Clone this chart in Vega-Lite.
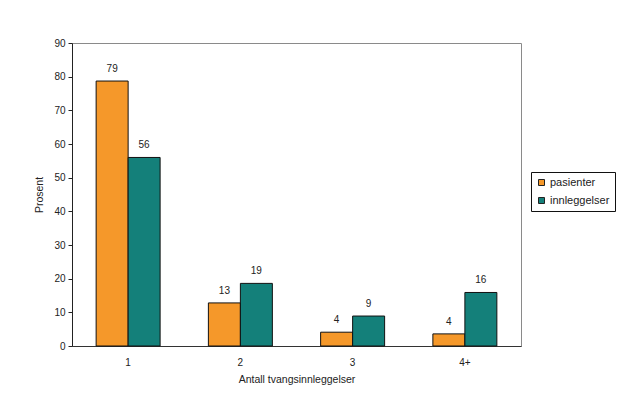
{
  "$schema": "https://vega.github.io/schema/vega-lite/v6.json",
  "autosize": {"type": "none"},
  "width": 449,
  "height": 303,
  "padding": {"left": 72, "top": 43, "right": 106, "bottom": 64},
  "background": "white",
  "config": {
    "font": "Liberation Sans",
    "view": {"stroke": "#8a8a8a", "strokeWidth": 1},
    "axis": {"labelFont": "Liberation Sans", "titleFont": "Liberation Sans", "labelColor": "#222", "titleColor": "#222"}
  },
  "data": {
    "values": [
      {"kategori": "1", "serie": "pasienter", "prosent": 78.7},
      {"kategori": "1", "serie": "innleggelser", "prosent": 56.0},
      {"kategori": "2", "serie": "pasienter", "prosent": 12.8},
      {"kategori": "2", "serie": "innleggelser", "prosent": 18.6},
      {"kategori": "3", "serie": "pasienter", "prosent": 4.1},
      {"kategori": "3", "serie": "innleggelser", "prosent": 8.9},
      {"kategori": "4+", "serie": "pasienter", "prosent": 3.6},
      {"kategori": "4+", "serie": "innleggelser", "prosent": 15.9}
    ]
  },
  "encoding": {
    "x": {
      "field": "kategori", "type": "nominal", "sort": ["1", "2", "3", "4+"],
      "scale": {"paddingInner": 0.43, "paddingOuter": 0.215},
      "axis": {"title": "Antall tvangsinnleggelser", "labelAngle": 0, "ticks": false, "labelPadding": 11, "labelFontSize": 10, "titleFontSize": 10.5, "titleFontWeight": "normal", "titlePadding": 7, "domainColor": "#333"}
    },
    "y": {
      "field": "prosent", "type": "quantitative",
      "scale": {"domain": [0, 90]},
      "axis": {"title": "Prosent", "values": [0,10,20,30,40,50,60,70,80,90], "grid": false, "tickSize": 4, "tickColor": "#222", "domainColor": "#222", "labelFontSize": 10, "labelPadding": 3, "titleFontSize": 10.5, "titleFontWeight": "normal", "titlePadding": 9}
    },
    "xOffset": {"field": "serie", "type": "nominal", "sort": ["pasienter", "innleggelser"]},
    "color": {
      "field": "serie", "type": "nominal", "sort": ["pasienter", "innleggelser"],
      "scale": {"domain": ["pasienter", "innleggelser"], "range": ["#F5982A", "#14807A"]},
      "legend": {
        "title": null, "orient": "none", "legendX": 459, "legendY": 129,
        "strokeColor": "#111", "fillColor": "white", "padding": 5,
        "symbolType": "square", "symbolSize": 36, "symbolStrokeColor": "#222", "symbolStrokeWidth": 1,
        "labelFontSize": 11, "labelFont": "Liberation Sans", "labelColor": "#222", "rowPadding": 6, "labelOffset": 3
      }
    }
  },
  "layer": [
    {"mark": {"type": "bar", "stroke": "#111", "strokeWidth": 1}},
    {
      "mark": {"type": "text", "baseline": "bottom", "dy": -7, "fontSize": 10, "color": "#222"},
      "encoding": {"text": {"field": "prosent", "type": "quantitative", "format": ".0f"}, "color": {"value": "#222"}}
    }
  ]
}
